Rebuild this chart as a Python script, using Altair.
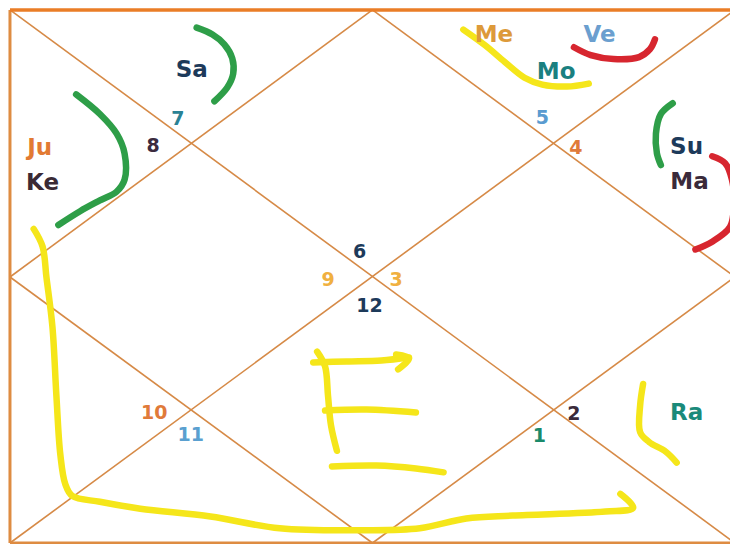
import altair as alt
import pandas as pd

# ---- chart frame (reference pixel coordinates) ----
L, R, T, B = 9, 743, 7, 550
MX, MY = 376, 279
frame_x1 = [L, L, R, L, L, L, MX, MX, R, L]
frame_y1 = [T, B, T, T, T, B, T, T, MY, MY]
frame_x2 = [R, R, R, L, R, R, R, L, MX, MX]
frame_y2 = [T, B, B, B, B, T, MY, MY, B, B]
frame_kind = ["top", "border", "border", "border", "diag", "diag", "diamond", "diamond", "diamond", "diamond"]

# ---- text labels ----
label_text = ["Sa", "7", "8", "Ju", "Ke", "Me", "Ve", "Mo", "5", "4", "Su", "Ma",
              "6", "9", "3", "12", "10", "11", "2", "1", "Ra"]
label_x = [193, 179, 154, 39, 42, 499, 606, 562, 548, 582, 694, 697,
           363, 331, 400, 373, 155, 192, 580, 545, 694]
label_y = [68, 118, 146, 148, 183, 33, 33, 70, 117, 148, 147, 182,
           254, 282, 282, 309, 418, 440, 419, 441, 418]
label_size = [23, 19, 19, 23, 23, 23, 23, 23, 19, 19, 23, 23,
              19, 19, 19, 19, 19, 19, 19, 19, 23]
label_color = ["#1d3a5a", "#2a8294", "#3b2b3f", "#e27a33", "#3a2a35", "#dd9a3a", "#6b9fcf",
               "#1a8080", "#5a9bd0", "#e07a3a", "#1d3a5a", "#3a2a3a",
               "#1d3a5a", "#f0b040", "#f0b040", "#1d3a5a", "#e07a3a", "#5aa0d0",
               "#3a2a3a", "#1a8a6a", "#1a8a7a"]

# ---- hand-drawn strokes ----
strokes = {
    "sa_green": ("#2e9e48", [(198, 25), (214, 32), (226, 42), (234, 56), (235, 72), (229, 86), (216, 100)]),
    "juke_green": ("#2e9e48", [(76, 93), (100, 113), (117, 133), (125, 153), (125, 180), (117, 192),
                               (100, 201), (80, 212), (58, 226)]),
    "memo_yellow": ("#f5e61a", [(468, 27), (490, 43), (510, 60), (530, 76), (548, 83), (573, 85), (595, 82)]),
    "ve_red": ("#d7262f", [(580, 45), (597, 53), (620, 57), (646, 55), (657, 47), (662, 37)]),
    "su_green": ("#2e9e48", [(680, 102), (668, 113), (663, 133), (664, 153), (668, 165)]),
    "ma_red": ("#d7262f", [(720, 156), (733, 163), (740, 180), (742, 205), (738, 228), (720, 243), (703, 251)]),
    "big_yellow": ("#f5e61a", [(33, 230), (42, 248), (46, 280), (52, 330), (56, 400), (60, 460), (65, 490),
                               (72, 502), (100, 508), (141, 515), (212, 523), (282, 535), (367, 537),
                               (424, 535), (471, 525), (518, 522), (612, 518), (640, 514), (627, 500)]),
    "e_top": ("#f5e61a", [(316, 366), (350, 365), (385, 364), (413, 361)]),
    "e_tick": ("#f5e61a", [(400, 358), (413, 362), (402, 373)]),
    "e_vert": ("#f5e61a", [(320, 355), (328, 370), (331, 400), (334, 430), (340, 456)]),
    "e_mid": ("#f5e61a", [(328, 415), (370, 414), (420, 417)]),
    "e_bot": ("#f5e61a", [(335, 472), (380, 471), (420, 474), (448, 478)]),
    "ra_yellow": ("#f5e61a", [(650, 388), (647, 410), (647, 437), (656, 447), (673, 457), (684, 468)]),
}

rows = []
for name, (col, pts) in strokes.items():
    for i, (px, py) in enumerate(pts):
        rows.append({"id": name, "o": i, "x": px, "y": py, "c": col})
stroke_df = pd.DataFrame(rows)

frame_df = pd.DataFrame({"x": frame_x1, "y": frame_y1, "x2": frame_x2, "y2": frame_y2, "k": frame_kind})
label_df = pd.DataFrame({"t": label_text, "x": label_x, "y": label_y, "s": label_size, "c": label_color})

xs = alt.Scale(domain=[7, 738], nice=False, zero=False)
ys = alt.Scale(domain=[5, 551], nice=False, zero=False, reverse=True)

base_x = alt.X("x:Q", scale=xs, axis=None)
base_y = alt.Y("y:Q", scale=ys, axis=None)

inner = alt.Chart(frame_df[frame_df.k.isin(["diag", "diamond"])]).mark_rule(
    color="#d68a47", strokeWidth=1.6, clip=True
).encode(x=base_x, y=base_y, x2="x2:Q", y2="y2:Q")

border = alt.Chart(frame_df[frame_df.k == "border"]).mark_rule(
    color="#de8c42", strokeWidth=3, clip=True
).encode(x=base_x, y=base_y, x2="x2:Q", y2="y2:Q")

top = alt.Chart(frame_df[frame_df.k == "top"]).mark_rule(
    color="#ea7d26", strokeWidth=3.5, clip=True
).encode(x=base_x, y=base_y, x2="x2:Q", y2="y2:Q")

lines = alt.Chart(stroke_df).mark_line(
    strokeWidth=6.5, strokeCap="round", strokeJoin="round", interpolate="catmull-rom", clip=True
).encode(
    x=base_x, y=base_y, detail="id:N", order="o:Q",
    color=alt.Color("c:N", scale=None),
)

texts = alt.Chart(label_df).mark_text(
    font="DejaVu Sans", fontWeight="bold", align="center", baseline="middle"
).encode(
    x=base_x, y=base_y, text="t:N",
    size=alt.Size("s:Q", scale=None),
    color=alt.Color("c:N", scale=None),
)

chart = alt.layer(inner, border, top, lines, texts).properties(
    width=722, height=536,
    autosize=alt.AutoSizeParams(type="none"),
    padding=0,
    background="white",
).configure_view(stroke=None)

chart.save("out.html", embed_options={"renderer": "svg", "actions": False})
